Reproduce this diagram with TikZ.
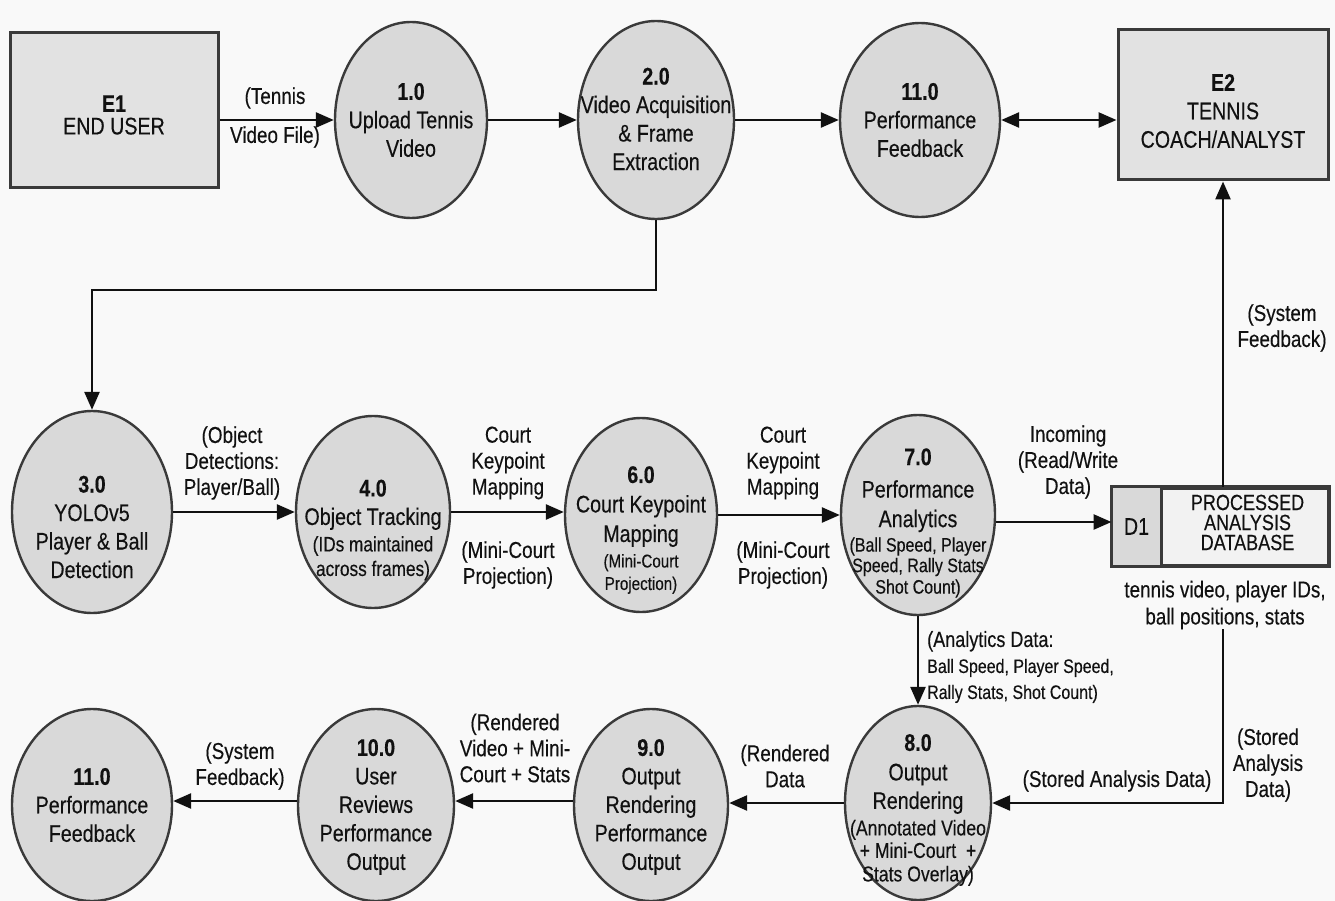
\documentclass[tikz,border=0pt]{standalone}
\usepackage{fontspec}
\setmainfont{Liberation Sans}[FakeStretch=0.82,FakeBold=0.3]
\usetikzlibrary{shapes.geometric,arrows.meta,calc}

\definecolor{bg}{HTML}{F9F9F9}
\definecolor{procfill}{HTML}{D9D9D9}
\definecolor{boxfill}{HTML}{E2E2E2}
\definecolor{storefill}{HTML}{F2F2F2}
\definecolor{edge}{HTML}{3A3A3A}
\definecolor{ink}{HTML}{111111}

\newcommand{\fsz}[2]{\fontsize{#1}{#2}\selectfont}

\begin{document}
\begin{tikzpicture}[x=1pt,y=-1pt,
  proc/.style={ellipse, draw=edge, fill=procfill, line width=2.4pt, inner sep=0pt},
  ext/.style={rectangle, draw=edge, fill=boxfill, line width=3pt, inner sep=0pt},
  txt/.style={align=center, text=ink, inner sep=0pt, font=\fsz{24}{28.5}},
  lbl/.style={align=center, text=ink, inner sep=0pt, font=\fsz{23}{26}},
  tip/.tip={Triangle[length=18pt,width=15pt]},
  flow/.style={draw=ink, line width=2.6pt, -tip},
  twoway/.style={draw=ink, line width=2.6pt, tip-tip}]

\fill[bg] (0,0) rectangle (1335,901);
\useasboundingbox (0,0) rectangle (1335,901);

% ---------- external entities ----------
\node[ext, minimum width=208pt, minimum height=155pt] (e1) at (114,110) {};
\node[txt, yshift=-5pt] at (e1) {\textbf{E1}\\[-6pt]END USER};
\node[ext, minimum width=210pt, minimum height=150pt] (e2) at (1223,105) {};
\node[txt, yshift=-6pt] at (e2) {\textbf{E2}\\TENNIS\\COACH/ANALYST};

% ---------- top row of processes ----------
\node[proc, minimum width=152pt, minimum height=196pt] (p1) at (411,120) {};
\node[txt] at (p1) {\textbf{1.0}\\Upload Tennis\\Video};
\node[proc, minimum width=156pt, minimum height=198pt] (p2) at (656,120) {};
\node[txt, yshift=1pt] at (p2) {\textbf{2.0}\\Video Acquisition\\\& Frame\\Extraction};
\node[proc, minimum width=160pt, minimum height=194pt] (p11a) at (920,120) {};
\node[txt] at (p11a) {\textbf{11.0}\\Performance\\Feedback};

% ---------- middle row ----------
\node[proc, minimum width=160pt, minimum height=202pt] (p3) at (92,512) {};
\node[txt, yshift=-15pt] at (p3) {\textbf{3.0}\\YOLOv5\\Player \& Ball\\Detection};
\node[proc, minimum width=154pt, minimum height=192pt] (p4) at (373,512) {};
\node[txt, yshift=-18pt] at (p4) {\textbf{4.0}\\Object Tracking\\[-2pt]{\fsz{21}{24}(IDs maintained}\\[-4pt]{\fsz{21}{24}across frames)}};
\node[proc, minimum width=152pt, minimum height=194pt] (p6) at (641,515) {};
\node[txt, yshift=-15pt] at (p6) {\textbf{6.0}\\[1pt]Court Keypoint\\[1pt]Mapping\\[-3pt]{\fsz{18.5}{22}(Mini-Court}\\[-6pt]{\fsz{18.5}{22}Projection)}};
\node[proc, minimum width=154pt, minimum height=200pt] (p7) at (918,515) {};
\node[txt, yshift=-8pt] at (p7) {\textbf{7.0}\\[4pt]Performance\\[1pt]Analytics\\[-4pt]{\fsz{19.5}{21}(Ball Speed, Player}\\[-8pt]{\fsz{19.5}{21}Speed, Rally Stats}\\[-7pt]{\fsz{19.5}{21}Shot Count)}};

% ---------- data store ----------
\node[rectangle, draw=edge, fill=storefill, line width=3pt, minimum width=215pt, minimum height=77pt, inner sep=0pt] (d1) at (1220.5,526.5) {};
\fill[procfill] ([xshift=1.5pt,yshift=-1.5pt]d1.north west) rectangle ([xshift=50pt,yshift=1.5pt]d1.south west);
\draw[edge, line width=3pt] ([xshift=50pt]d1.north west) -- ([xshift=50pt]d1.south west);
\draw[edge, line width=3pt] (d1.north west) rectangle (d1.south east);
\node[txt] (d1id) at ($(d1.west)+(25,0)$) {D1};
\node[txt, font=\fsz{22}{20}] (d1name) at ($(d1.center)+(27,-4)$) {PROCESSED\\ANALYSIS\\DATABASE};
\node[lbl, font=\fsz{23}{27}] (d1note) at (1225,605) {tennis video, player IDs,\\ball positions, stats};

% ---------- bottom row ----------
\node[proc, minimum width=146pt, minimum height=194pt] (p8) at (918,803) {};
\node[txt, yshift=-7pt] at (p8) {\textbf{8.0}\\[1pt]Output\\Rendering\\[-2pt]{\fsz{21.5}{22}(Annotated Video}\\[-6pt]{\fsz{21.5}{22}+ Mini-Court\ \ +}\\[-5pt]{\fsz{21.5}{22}Stats Overlay)}};
\node[proc, minimum width=154pt, minimum height=192pt] (p9) at (651,805) {};
\node[txt, yshift=-2pt] at (p9) {\textbf{9.0}\\Output\\Rendering\\Performance\\Output};
\node[proc, minimum width=156pt, minimum height=192pt] (p10) at (376,805) {};
\node[txt, yshift=-2pt] at (p10) {\textbf{10.0}\\User\\Reviews\\Performance\\Output};
\node[proc, minimum width=160pt, minimum height=192pt] (p11b) at (92,805) {};
\node[txt] at (p11b) {\textbf{11.0}\\Performance\\Feedback};

% ---------- flows, top row ----------
\draw[flow] (e1.east |- p1.west) -- (p1.west);
\draw[flow] (p1.east) -- (p2.west);
\draw[flow] (p2.east) -- (p11a.west);
\draw[twoway] (p11a.east) -- (p11a.east -| e2.west);
\coordinate (drop) at (0,290);
\draw[flow] (p2.south) -- (p2.south |- drop) -| (p3.north);

% ---------- flows, middle row ----------
\draw[flow] (p3.east) -- (p3.east -| p4.west);
\draw[flow] (p4.east) -- (p4.east -| p6.west);
\draw[flow] (p6.east) -- (p6.east -| p7.west);
\coordinate (p7out) at ($(p7.east)+(-0.5,7)$);
\draw[flow] (p7out) -- (p7out -| d1.west);
\draw[flow] (e2.south |- d1.north) -- (e2.south);

% ---------- flows, bottom row ----------
\draw[flow] (p7.south) -- (p8.north);
\draw[flow] (d1note.south -| e2.south) |- (p8.east);
\draw[flow] (p8.west) -- (p8.west -| p9.east);
\coordinate (p9out) at ($(p9.west)+(0,-4)$);
\draw[flow] (p9out) -- (p9out -| p10.east);
\coordinate (p10out) at ($(p10.west)+(0,-4)$);
\draw[flow] (p10out) -- (p10out -| p11b.east);

% ---------- flow labels ----------
\node[lbl] (l1a) at (275,98) {(Tennis};
\node[lbl] (l1b) at (275,137) {Video File)};
\node[lbl] (l3) at (232,463) {(Object\\Detections:\\Player/Ball)};
\node[lbl] (l4a) at (508,463) {Court\\Keypoint\\Mapping};
\node[lbl] (l4b) at (508,565) {(Mini-Court\\Projection)};
\node[lbl] (l6a) at (783,463) {Court\\Keypoint\\Mapping};
\node[lbl] (l6b) at (783,565) {(Mini-Court\\Projection)};
\node[lbl] (l7) at (1068,462) {Incoming\\(Read/Write\\Data)};
\node[lbl] (lsys) at (1282,328) {(System\\Feedback)};
\node[lbl, align=left, anchor=west] (lan) at (927,667) {{\fsz{22}{24}(Analytics Data:}\\{\fsz{19.5}{23}Ball Speed, Player Speed,}\\{\fsz{19.5}{23}Rally Stats, Shot Count)}};
\node[lbl] (lst1) at (1268,765) {(Stored\\Analysis\\Data)};
\node[lbl] (lst2) at (1117,781) {(Stored Analysis Data)};
\node[lbl] (l8) at (785,766) {(Rendered\\Data};
\node[lbl] (l9) at (515,748) {(Rendered\\Video + Mini-\\Court + Stats};
\node[lbl] (l10) at (240,766) {(System\\Feedback)};

\end{tikzpicture}
\end{document}
